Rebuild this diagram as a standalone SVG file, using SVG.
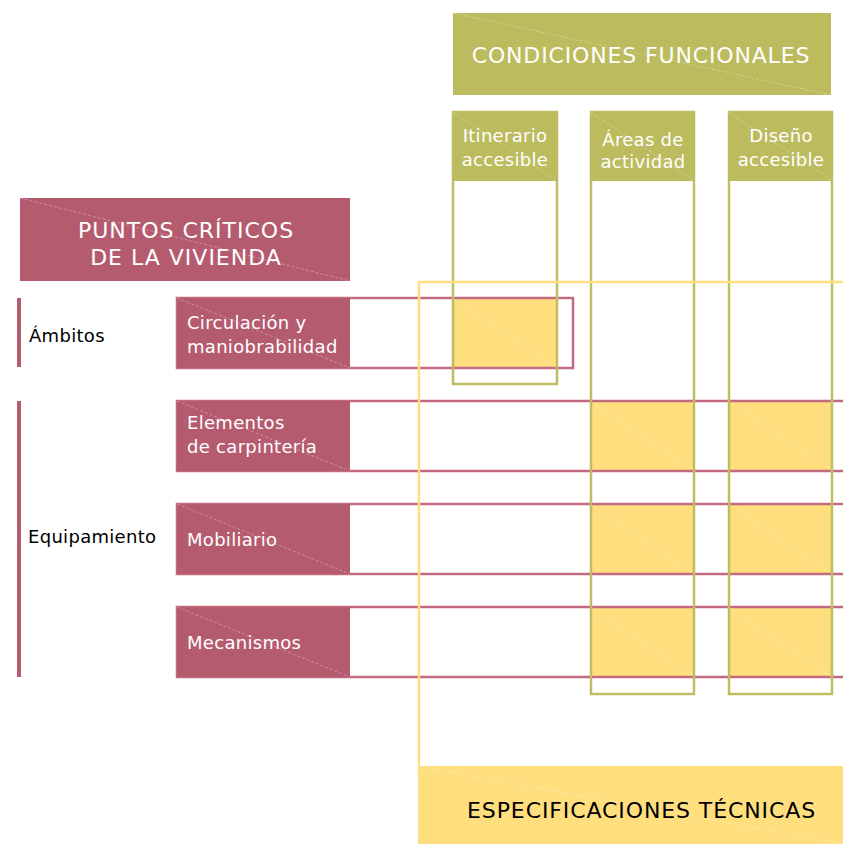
<svg xmlns="http://www.w3.org/2000/svg" width="843" height="844" viewBox="0 0 843 844">
<style>
.olive{fill:#bcbb5e}
.rose{fill:#b55b6f}
.yel{fill:#ffde7e}
.diag{stroke:#ffffff;stroke-opacity:0.3;stroke-width:1;stroke-dasharray:3 2;fill:none}
.colout{fill:none;stroke:#bfbd5f;stroke-width:2.5}
.rowout{fill:none;stroke:#c26a80;stroke-width:2.5}
.yout{fill:none;stroke:#ffdf80;stroke-width:2.5}
.tw{fill:#ffffff;font-family:"DejaVu Sans",Verdana,sans-serif}
.tb{fill:#000000;font-family:"DejaVu Sans",Verdana,sans-serif}
.big{font-size:22px;letter-spacing:0.85px}
.mid{font-size:22px;letter-spacing:1px}
.sm{font-size:18px;letter-spacing:0.3px}
</style>
<rect width="843" height="844" fill="#ffffff"/>

<g id="cells">
<rect class="yel" x="453" y="298" width="104" height="70"/>
<line class="diag" x1="453" y1="298" x2="557" y2="368"/>
<rect class="yel" x="590" y="401" width="104" height="70"/>
<line class="diag" x1="590" y1="401" x2="694" y2="471"/>
<rect class="yel" x="728" y="401" width="104" height="70"/>
<line class="diag" x1="728" y1="401" x2="832" y2="471"/>
<rect class="yel" x="590" y="504" width="104" height="70"/>
<line class="diag" x1="590" y1="504" x2="694" y2="574"/>
<rect class="yel" x="728" y="504" width="104" height="70"/>
<line class="diag" x1="728" y1="504" x2="832" y2="574"/>
<rect class="yel" x="590" y="607" width="104" height="70"/>
<line class="diag" x1="590" y1="607" x2="694" y2="677"/>
<rect class="yel" x="728" y="607" width="104" height="70"/>
<line class="diag" x1="728" y1="607" x2="832" y2="677"/>
</g>

<g id="connectors">
<rect class="rowout" x="177" y="298" width="396" height="70"/>
<rect class="rowout" x="177" y="401" width="700" height="70"/>
<rect class="rowout" x="177" y="504" width="700" height="70"/>
<rect class="rowout" x="177" y="607" width="700" height="70"/>
<rect class="colout" x="453" y="112" width="104" height="272"/>
<rect class="colout" x="591" y="112" width="103" height="582"/>
<rect class="colout" x="729" y="112" width="103" height="582"/>
<rect class="yout" x="419" y="282" width="460" height="490"/>
</g>

<g id="condiciones">
<rect class="olive" x="453" y="13" width="378" height="82"/>
<line class="diag" x1="453" y1="13" x2="831" y2="95"/>
<text class="tw big" x="641" y="63" text-anchor="middle">CONDICIONES FUNCIONALES</text>
</g>

<g id="itinerario">
<rect class="olive" x="453" y="112" width="104" height="69"/>
<line class="diag" x1="453" y1="112" x2="557" y2="181"/>
<text class="tw sm" x="505" y="142" text-anchor="middle">Itinerario</text>
<text class="tw sm" x="505" y="166" text-anchor="middle">accesible</text>
</g>

<g id="areas">
<rect class="olive" x="590" y="112" width="105" height="69"/>
<line class="diag" x1="590" y1="112" x2="695" y2="181"/>
<text class="tw sm" x="643" y="146" text-anchor="middle">Áreas de</text>
<text class="tw sm" x="643" y="168" text-anchor="middle">actividad</text>
</g>

<g id="diseno">
<rect class="olive" x="728" y="112" width="105" height="69"/>
<line class="diag" x1="728" y1="112" x2="833" y2="181"/>
<text class="tw sm" x="781" y="142" text-anchor="middle">Diseño</text>
<text class="tw sm" x="781" y="166" text-anchor="middle">accesible</text>
</g>

<g id="puntos">
<rect class="rose" x="20" y="198" width="330" height="83"/>
<line class="diag" x1="20" y1="198" x2="350" y2="281"/>
<text class="tw mid" x="186" y="238" text-anchor="middle">PUNTOS CRÍTICOS</text>
<text class="tw mid" x="186" y="265" text-anchor="middle">DE LA VIVIENDA</text>
</g>

<g id="ambitos">
<rect class="rose" x="17" y="298" width="4" height="69"/>
<text class="tb sm" x="29" y="342">Ámbitos</text>
</g>

<g id="equipamiento">
<rect class="rose" x="17" y="401" width="4" height="276"/>
<text class="tb sm" x="28" y="543">Equipamiento</text>
</g>

<g id="circulacion">
<rect class="rose" x="177" y="298" width="173" height="70"/>
<line class="diag" x1="177" y1="298" x2="350" y2="368"/>
<text class="tw sm" x="187" y="329">Circulación y</text>
<text class="tw sm" x="187" y="353">maniobrabilidad</text>
</g>

<g id="elementos">
<rect class="rose" x="177" y="401" width="173" height="70"/>
<line class="diag" x1="177" y1="401" x2="350" y2="471"/>
<text class="tw sm" x="187" y="429">Elementos</text>
<text class="tw sm" x="187" y="453">de carpintería</text>
</g>

<g id="mobiliario">
<rect class="rose" x="177" y="504" width="173" height="70"/>
<line class="diag" x1="177" y1="504" x2="350" y2="574"/>
<text class="tw sm" x="187" y="546">Mobiliario</text>
</g>

<g id="mecanismos">
<rect class="rose" x="177" y="607" width="173" height="70"/>
<line class="diag" x1="177" y1="607" x2="350" y2="677"/>
<text class="tw sm" x="187" y="649">Mecanismos</text>
</g>

<g id="especificaciones">
<rect class="yel" x="418" y="766" width="425" height="78"/>
<line class="diag" x1="418" y1="766" x2="843" y2="844"/>
<text class="tb mid" x="467" y="818" style="letter-spacing:0.9px">ESPECIFICACIONES TÉCNICAS</text>
</g>
</svg>
